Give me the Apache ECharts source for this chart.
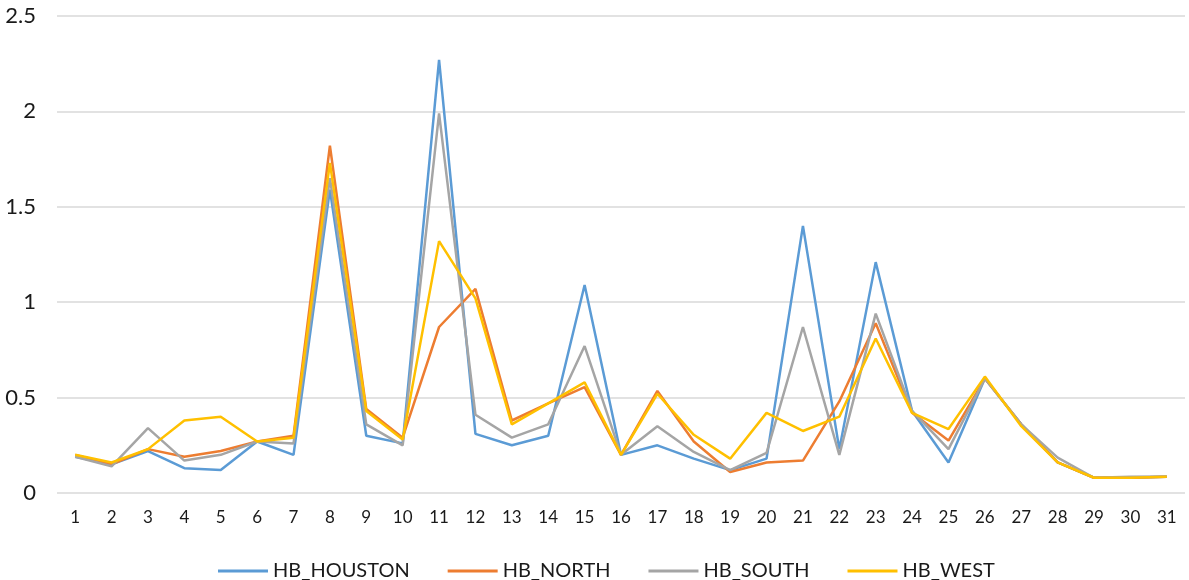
<!DOCTYPE html>
<html>
<head>
<meta charset="utf-8">
<script src="https://cdn.jsdelivr.net/npm/echarts@6/dist/echarts.min.js"></script>
<style>
	html, body { margin: 0; padding: 0; background: #fff; }
	#chart { width: 1189px; height: 580px; }
</style>
</head>
<body>
<div id="chart"></div>
<script>
	var days = [];
	for (var d = 1; d <= 31; d++) days.push(String(d));

	var houston = [0.19, 0.15, 0.22, 0.13, 0.12, 0.27, 0.20, 1.59, 0.30, 0.26,
		2.27, 0.31, 0.25, 0.30, 1.09, 0.20, 0.25, 0.18, 0.12, 0.18,
		1.40, 0.23, 1.21, 0.43, 0.16, 0.60, 0.36, 0.16, 0.08, 0.08, 0.085];
	var north = [0.20, 0.15, 0.23, 0.19, 0.22, 0.27, 0.30, 1.82, 0.44, 0.29,
		0.87, 1.07, 0.38, 0.47, 0.555, 0.20, 0.535, 0.27, 0.11, 0.16,
		0.17, 0.48, 0.89, 0.42, 0.275, 0.60, 0.36, 0.16, 0.08, 0.08, 0.085];
	var south = [0.19, 0.14, 0.34, 0.17, 0.20, 0.27, 0.26, 1.65, 0.36, 0.25,
		1.99, 0.41, 0.29, 0.36, 0.77, 0.20, 0.35, 0.215, 0.12, 0.21,
		0.87, 0.20, 0.94, 0.43, 0.23, 0.60, 0.36, 0.185, 0.08, 0.085, 0.087];
	var west = [0.20, 0.16, 0.23, 0.38, 0.40, 0.27, 0.29, 1.73, 0.43, 0.28,
		1.32, 1.02, 0.36, 0.47, 0.58, 0.20, 0.52, 0.305, 0.18, 0.42,
		0.325, 0.40, 0.81, 0.42, 0.335, 0.61, 0.35, 0.16, 0.08, 0.08, 0.085];

	var names = ['HB_HOUSTON', 'HB_NORTH', 'HB_SOUTH', 'HB_WEST'];
	var colors = ['#5B9BD5', '#ED7D31', '#A5A5A5', '#FFC000'];
	var values = [houston, north, south, west];

	var seris = [];
	for (var i = 0; i < names.length; i++) {
		seris.push({
			name: names[i],
			type: 'line',
			data: values[i],
			symbol: 'none',
			lineStyle: { color: colors[i], width: 2.5 },
			itemStyle: { color: colors[i] }
		});
	}

	var myChart = echarts.init(document.getElementById('chart'));
	myChart.setOption({
		animation: false,
		textStyle: { fontFamily: 'Lato' },
		grid: {
			top: 16,
			bottom: 87,
			left: 57,
			right: 4
		},
		legend: {
			data: names,
			icon: 'rect',
			left: 213,
			top: 556,
			itemGap: 38,
			itemWidth: 50,
			itemHeight: 3,
			textStyle: { color: '#1a1a1a', fontSize: 20, fontFamily: 'Lato' }
		},
		xAxis: {
			type: 'category',
			data: days,
			boundaryGap: true,
			axisLine: { show: false },
			axisTick: { show: false },
			axisLabel: { color: '#1a1a1a', fontSize: 17, margin: 16 }
		},
		yAxis: {
			type: 'value',
			min: 0,
			max: 2.5,
			interval: 0.5,
			axisLine: { show: false },
			axisTick: { show: false },
			axisLabel: { color: '#1a1a1a', fontSize: 22, margin: 21 },
			splitLine: { lineStyle: { color: '#d9d9d9', width: 1.5 } }
		},
		series: seris
	});
</script>
</body>
</html>
